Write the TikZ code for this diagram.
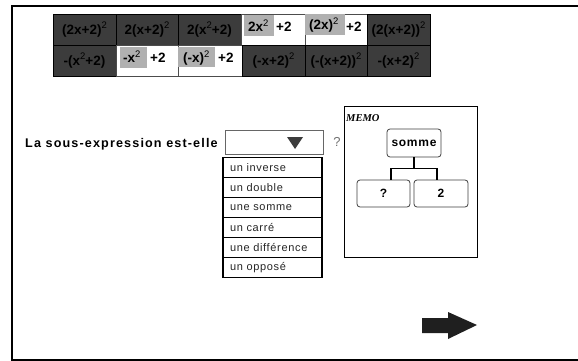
\documentclass[tikz,border=0pt]{standalone}
\usepackage{fontspec}
\setmainfont{Liberation Sans}
\newfontfamily\spaced[LetterSpace=6]{Liberation Sans}
\newfontfamily\spacedb[LetterSpace=9]{Liberation Sans}
\newfontfamily\memofont{Liberation Serif}
\definecolor{cellgray}{HTML}{3C3C3C}
\definecolor{hl}{HTML}{B0B0B0}
\newcommand{\spow}{\raisebox{0.42em}{\fontsize{9.5}{9.5}\selectfont\mdseries 2}}
\tikzset{
 darkcell/.style={draw=black,line width=0.8pt,fill=cellgray,minimum width=#1,minimum height=31pt,inner sep=0pt,text=black,font=\fontsize{13.5}{14}\selectfont\bfseries},
 whitecell/.style={draw=black!70,line width=0.8pt,fill=white,minimum width=#1,minimum height=31pt,inner sep=0pt},
 cellfont/.style={font=\fontsize{13.5}{14}\selectfont\bfseries,inner sep=0pt,anchor=base west},
 choice/.style={draw=black,line width=1.2pt,fill=white,minimum width=99pt,minimum height=20pt,inner sep=0pt,text=black!85,text width=85pt,align=left,font=\spaced\fontsize{11}{12}\selectfont},
 treebox/.style={draw=black!75,line width=0.8pt,rounded corners=3pt,fill=white,inner sep=0pt,font=\spaced\bfseries\fontsize{12}{13}\selectfont},
 treeline/.style={line width=1.3pt,black}
}
\begin{document}
\begin{tikzpicture}[x=1pt,y=-1pt]
\useasboundingbox (0,0) rectangle (578,361);
\fill[white] (0,0) rectangle (578,361);
\draw[line width=2pt,line cap=butt] (578,6) -- (12,6) -- (12,360) -- (578,360);
% top row
\node[darkcell=63pt] (a1) at (84.5,29.5) {(2x+2)\spow};
\node[darkcell=62pt] (a2) at (147,29.5) {2(x+2)\spow};
\node[darkcell=63pt] (a3) at (209.5,29.5) {2(x\spow+2)};
\node[whitecell=64pt] (a4) at (273,29.5) {};
\node[whitecell=62pt] (a5) at (336,29.5) {};
\node[darkcell=63pt] (a6) at (398.5,29.5) {(2(x+2))\spow};
% bottom row
\node[darkcell=63pt] (b1) at (84.5,60.5) {-(x\spow+2)};
\node[whitecell=62pt] (b2) at (147,60.5) {};
\node[whitecell=64pt] (b3) at (210,60.5) {};
\node[darkcell=63pt] (b4) at (273.5,60.5) {(-x+2)\spow};
\node[darkcell=62pt] (b5) at (336,60.5) {(-(x+2))\spow};
\node[darkcell=63pt] (b6) at (398.5,60.5) {-(x+2)\spow};
% highlights
\fill[hl] (244,15) rectangle (274,36);
\fill[hl] (305,14.5) rectangle (345,35);
\fill[hl] (120,47) rectangle (147,68);
\fill[hl] (178,47) rectangle (215,67);
\node[cellfont] (t1) at (248,32) {2x\spow};
\node[cellfont] (t1b) at (276,32) {+2};
\node[cellfont] (t2) at (309,30) {(2x)\spow};
\node[cellfont] (t2b) at (346,32) {+2};
\node[cellfont] (t3) at (123,63) {-x\spow};
\node[cellfont] (t3b) at (150,63) {+2};
\node[cellfont] (t4) at (183,63) {(-x)\spow};
\node[cellfont] (t4b) at (218,63) {+2};
% question
\node[anchor=base west,inner sep=0pt,font=\spacedb\bfseries\fontsize{12.6}{14}\selectfont] (q) at (25,147) {La sous-expression est-elle};
\node[draw=black!60,line width=0.8pt,fill=white,minimum width=98pt,minimum height=24pt,inner sep=0pt] (combo) at (274,142) {};
\fill[cellgray] (287,137) -- (303,137) -- (295,149) -- cycle;
\node[text=black!55,font=\fontsize{13}{14}\selectfont,inner sep=0pt] (qm) at (337,142) {?};
% choices
\node[choice] (c1) at (272.5,167.7) {un inverse};
\node[choice] (c2) at (272.5,187.7) {un double};
\node[choice] (c3) at (272.5,207.7) {une somme};
\node[choice] (c4) at (272.5,227.7) {un carré};
\node[choice] (c5) at (272.5,247.7) {une différence};
\node[choice] (c6) at (272.5,267.7) {un opposé};
% memo
\node[draw=black,line width=0.8pt,minimum width=133pt,minimum height=151pt,inner sep=0pt] (memo) at (410.5,181.5) {};
\node[anchor=base west,inner sep=0pt,font=\memofont\fontsize{10.5}{11}\selectfont\bfseries\itshape] (mt) at (346,121) {MEMO};
\node[treebox,minimum width=54pt,minimum height=28pt] (s) at (414,143) {somme};
\node[treebox,minimum width=53pt,minimum height=27pt] (l) at (383.5,193.5) {?};
\node[treebox,minimum width=54pt,minimum height=27pt] (r) at (441,193.5) {2};
\draw[treeline] (s.south) -- ++(0,11) -| ([xshift=7.5pt]l.north);
\draw[treeline] (s.south) -- ++(0,11) -| ([xshift=-4pt]r.north);
% arrow
\fill[black!88] (422,318) -- (448,318) -- (448,312) -- (477,325) -- (448,339) -- (448,333) -- (422,333) -- cycle;
\end{tikzpicture}
\end{document}
